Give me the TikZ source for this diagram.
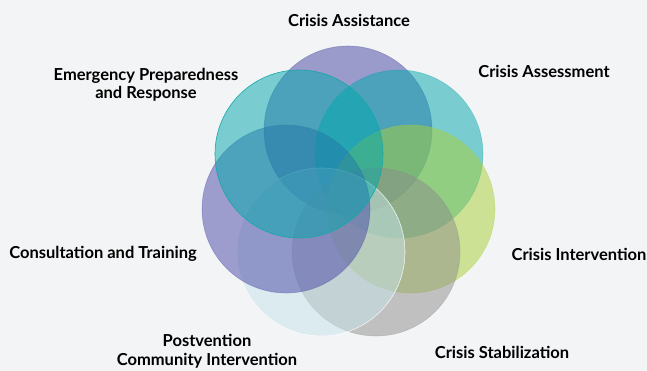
\documentclass[tikz,border=0pt]{standalone}
\usepackage{fontspec}
\setmainfont{Lato}
\usepackage{tikz}
\usetikzlibrary{positioning}

\definecolor{pageBg}{RGB}{243,244,246}
\definecolor{assistPurple}{RGB}{66,66,162}
\definecolor{ringTeal}{RGB}{0,168,172}
\definecolor{ringTealEdge}{RGB}{20,168,170}
\definecolor{ringGreen}{RGB}{169,208,54}
\definecolor{ringGrey}{RGB}{141,141,138}
\definecolor{ringIce}{RGB}{199,228,234}
\definecolor{consultPurple}{RGB}{70,70,166}

\tikzset{
  ring/.style={circle, minimum size=168pt, inner sep=0pt, fill opacity=0.5, draw opacity=0.35, line width=0.6pt},
  areaText/.style={font=\bfseries\fontsize{16.5}{18.5}\selectfont, align=center, text=black, inner sep=0pt}
}

\begin{document}
\begin{tikzpicture}[x=1pt, y=-1pt]
  \fill[pageBg] (0,0) rectangle (647,371);
  \useasboundingbox (0,0) rectangle (647,371);

  \node[ring, fill=assistPurple, draw=assistPurple] (assist) at (348,130) {};
  \node[ring, fill=ringTeal, draw=ringTeal] (assess) at (399,154) {};
  \node[ring, fill=ringGreen, draw=ringGreen] (interv) at (411,209) {};
  \node[ring, fill=ringGrey, draw=ringGrey] (stabil) at (376,252) {};
  \node[ring, fill=ringIce, draw=white, draw opacity=0.8] (postv) at (321,252) {};
  \node[ring, fill=consultPurple, draw=consultPurple] (consult) at (286,209) {};
  \node[ring, fill=ringTeal, draw=ringTealEdge, draw opacity=1] (emerg) at (299,154) {};

  \node[areaText] (assistText) at (349,20) {Crisis Assistance};
  \node[areaText] (assessText) at (544,71) {Crisis Assessment};
  \node[areaText] (emergText) at (146,85) {Emergency Preparedness\\and Response};
  \node[areaText] (consultText) at (103,254) {Consultation and Training};
  \node[areaText] (intervText) at (579,254) {Crisis Intervention};
  \node[areaText] (postvText) at (207,351) {Postvention\\Community Intervention};
  \node[areaText] (stabilText) at (502,352) {Crisis Stabilization};
\end{tikzpicture}
\end{document}
